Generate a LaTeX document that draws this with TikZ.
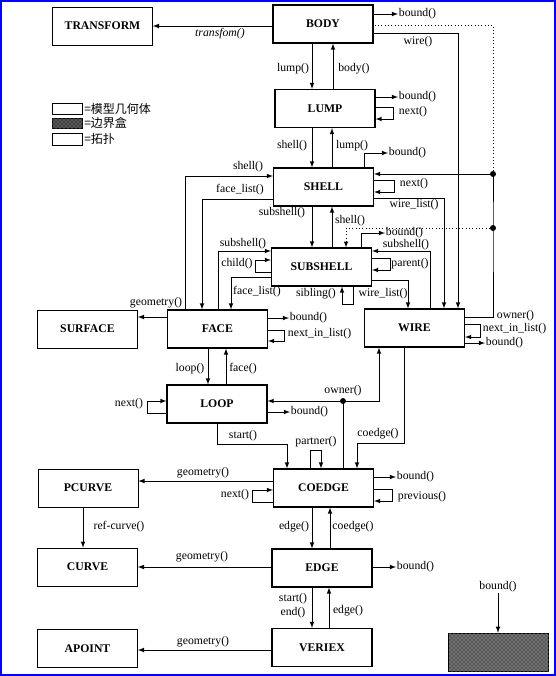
\documentclass[tikz,border=0pt]{standalone}
\usepackage{fontspec}
\setmainfont{Liberation Serif}
\newfontfamily\cjkfont{Noto Sans CJK SC}
\usetikzlibrary{patterns}
\tikzset{
  topo/.style={draw=black, line width=0.9pt, minimum width=75pt, minimum height=28.5pt,
    inner sep=0pt, font=\fontsize{8.8}{10}\selectfont\bfseries},
  geo/.style={topo, line width=0.55pt},
  lbl/.style={inner sep=0.5pt, font=\fontsize{8.8}{10.5}\selectfont},
  junction/.style={circle, fill=black, inner sep=0pt, minimum size=4.5pt}
}
\begin{document}
\begin{tikzpicture}[x=0.75pt, y=-0.75pt]
  \useasboundingbox (0,0) rectangle (556,676);
  \draw[blue, line width=1.4pt] (1,1) rectangle (555,675);

  % topology boxes
  \begin{scope}[every node/.style={topo}]
    \node (body) at (323,24) {BODY};
    \node (lump) at (325,108.5) {LUMP};
    \node (shell) at (323.5,187) {SHELL};
    \node (subshell) at (321.5,267) {SUBSHELL};
    \node (face) at (217.5,329) {FACE};
    \node (wire) at (414.5,328) {WIRE};
    \node (loop) at (217,404) {LOOP};
    \node (coedge) at (323.5,488) {COEDGE};
    \node (edge) at (322,568) {EDGE};
    \node (vertex) at (322,647.5) {VERIEX};
  \end{scope}
  % geometry boxes
  \begin{scope}[every node/.style={geo}]
    \node (transform) at (102.5,26) {TRANSFORM};
    \node (surface) at (87.5,329) {SURFACE};
    \node (pcurve) at (88,488) {PCURVE};
    \node (curve) at (87.5,567) {CURVE};
    \node (apoint) at (87.5,648.5) {APOINT};
  \end{scope}
  \node[draw, line width=0.6pt, fill=black!65, postaction={pattern=crosshatch dots, pattern color=black!25},
    minimum width=75pt, minimum height=29pt] (sample) at (498.5,652.5) {};

  % legend
  \node[geo, minimum width=22.5pt, minimum height=8.3pt] (leggeo) at (67,108.5) {};
  \node[draw, fill=black!75, postaction={pattern=crosshatch dots, pattern color=black!35},
    minimum width=22.5pt, minimum height=7.5pt, inner sep=0pt] (legbox) at (67,123) {};
  \node[topo, line width=0.75pt, minimum width=22.5pt, minimum height=9pt] (legtopo) at (67,139) {};
  \begin{scope}[every node/.style={anchor=west, inner sep=0pt, font=\cjkfont\fontsize{9}{10}\selectfont}]
    \node (tgeo) at (84,108.5) {=模型几何体};
    \node (tbox) at (84,123) {=边界盒};
    \node (ttopo) at (84,139) {=拓扑};
  \end{scope}

  % junctions
  \node[junction] (own1) at (493,174) {};
  \node[junction] (own2) at (493,228) {};
  \node[junction] (own3) at (343,401) {};

  % labels
  \begin{scope}[every node/.style={lbl}]
    \node (ltransform) at (220,34) {\textit{transfom()}};
    \node[anchor=west] (bbody) at (398,14) {bound()};
    \node (lwire) at (418,42) {wire()};
    \node (llump) at (293,69) {lump()};
    \node (lbody) at (354,69) {body()};
    \node[anchor=west] (blump) at (398,97) {bound()};
    \node (lnextlump) at (413,112) {next()};
    \node (lshell1) at (292,146) {shell()};
    \node (llump2) at (352,146) {lump()};
    \node[anchor=west] (bshell) at (388,153) {bound()};
    \node (lnextshell) at (414,184) {next()};
    \node (lwirelist1) at (414,205) {wire\_list()};
    \node (lshell2) at (248,167) {shell()};
    \node (lfacelist1) at (240,190) {face\_list()};
    \node (lsubshell1) at (282,213) {subshell()};
    \node (lshell3) at (350,221) {shell()};
    \node[anchor=west] (bsubshell) at (385,233) {bound()};
    \node (lsubshell2) at (406,245) {subshell()};
    \node (lparent) at (410,264) {parent()};
    \node (lwirelist2) at (383,294) {wire\_list()};
    \node (lsibling) at (316,294) {sibling()};
    \node (lsubshell3) at (243,244) {subshell()};
    \node (lchild) at (237,264) {child()};
    \node (lfacelist2) at (257,292) {face\_list()};
    \node (lgeoface) at (156,303) {geometry()};
    \node[anchor=west] (bface) at (289,318) {bound()};
    \node[anchor=west] (lnextface) at (287,334) {next\_in\_list()};
    \node[anchor=west] (lowner1) at (496,316) {owner()};
    \node[anchor=west] (lnextwire) at (482,329) {next\_in\_list()};
    \node[anchor=west] (bwire) at (485,343) {bound()};
    \node (lloop) at (190,369) {loop()};
    \node (lface) at (243,369) {face()};
    \node (lnextloop) at (129,404) {next()};
    \node[anchor=west] (bloop) at (290,412) {bound()};
    \node (lowner2) at (343,391) {owner()};
    \node (lcoedge1) at (378,434) {coedge()};
    \node (lstart) at (243,436) {start()};
    \node (lpartner) at (316,442) {partner()};
    \node[anchor=west] (bcoedge) at (396,477) {bound()};
    \node (lprevious) at (422,497) {previous()};
    \node (lgeocoedge) at (203,473) {geometry()};
    \node (lnextcoedge) at (235,495) {next()};
    \node (lrefcurve) at (119,527) {ref-curve()};
    \node (ledge1) at (294,527) {edge()};
    \node (lcoedge2) at (353,527) {coedge()};
    \node (lgeoedge) at (202,557) {geometry()};
    \node[anchor=west] (bedge) at (396,567) {bound()};
    \node[align=center] (lstartend) at (293,606) {start()\\end()};
    \node (ledge2) at (348,611) {edge()};
    \node (lgeovertex) at (203,642) {geometry()};
    \node (bsample) at (498,587) {bound()};
  \end{scope}

  % connectors
  \begin{scope}[->, >=latex, line width=0.6pt, every edge/.style={draw=black, ->, >=latex, line width=0.6pt}]
    \path (body.west |- transform.east) edge (transform.east);
    \path (body.east |- bbody) edge (bbody.west);
    \draw (body.east |- 0,33) -| (wire.north -| 458,0);
    \path (body.south -| 312,0) edge (lump.north -| 312,0);
    \path (lump.north -| 333,0) edge (body.south -| 333,0);
    \path (lump.east |- blump) edge (blump.west);
    \draw (lump.east |- 0,107) -- (393,107) |- (lump.east |- 0,119);
    \path (lump.south -| 312,0) edge (shell.north -| 312,0);
    \path (shell.north -| 332,0) edge (lump.south -| 332,0);
    \draw (shell.north -| 364,0) |- (bshell.west);
    \draw (shell.east |- 0,180) -- (394,180) |- (shell.east |- 0,192);
    \draw (shell.east |- 0,198) -| (wire.north -| 444,0);
    \draw (face.north -| 185,0) |- (shell.west |- 0,176);
    \draw (shell.west |- 0,199) -| (face.north -| 202,0);
    \path (shell.south -| 312,0) edge (subshell.north -| 312,0);
    \path (subshell.north -| 332,0) edge (shell.south -| 332,0);
    % owner of a wire
    \draw (wire.east |- 0,317) -| (own2.center) -- (own1.center) -- (shell.east |- own1);
    \draw[-, dotted, line width=0.5pt] (own1.center) |- (body.east |- 0,25);
    \draw[dotted, line width=0.5pt] (own2.center) -| (subshell.north -| 346,0);
    \draw (subshell.north -| 361,0) |- (bsubshell.west);
    \draw (wire.north -| 430,0) |- (subshell.east |- 0,251);
    \draw (subshell.east |- 0,258) -- (390,258) |- (subshell.east |- 0,270);
    \draw (subshell.east |- 0,280) -| (wire.north -| 408,0);
    \draw (subshell.south -| 353,0) |- (342,304) -- (subshell.south -| 342,0);
    \draw (face.north -| 218,0) |- (subshell.west |- 0,251);
    \draw (subshell.west |- 0,272) -- (255,272) |- (subshell.west |- 0,260);
    \draw (subshell.west |- 0,277) -| (face.north -| 231,0);
    \path (face.west |- 0,317) edge (surface.east |- 0,317);
    \path (face.east |- bface) edge (bface.west);
    \draw (face.east |- 0,330) -- (284,330) |- (face.east |- 0,341);
    \draw (wire.east |- 0,324) -- (480,324) |- (wire.east |- 0,337);
    \path (wire.east |- bwire) edge (bwire.west);
    \path (face.south -| 208,0) edge (loop.north -| 208,0);
    \path (loop.north -| 226,0) edge (face.south -| 226,0);
    \draw (loop.west |- 0,413) -- (147,413) |- (loop.west |- 0,401);
    \path (loop.east |- bloop) edge (bloop.west);
    % owner of a coedge
    \draw[-] (coedge.north -| own3) -- (own3.center);
    \path (own3.center) edge (loop.east |- own3);
    \draw (own3.center) -| (wire.south -| 379,0);
    \draw (wire.south -| 404,0) |- (357,443) -- (coedge.north -| 357,0);
    \draw (loop.south -| 217,0) |- (287,444) -- (coedge.north -| 287,0);
    \draw (coedge.north -| 310,0) |- (321,450) -- (coedge.north -| 321,0);
    \path (coedge.east |- bcoedge) edge (bcoedge.west);
    \draw (coedge.east |- 0,489) -- (392,489) |- (coedge.east |- 0,501);
    \path (coedge.west |- 0,481) edge (pcurve.east |- 0,481);
    \draw (coedge.west |- 0,502) -- (252,502) |- (coedge.west |- 0,490);
    \path (pcurve.south -| 83,0) edge (curve.north -| 83,0);
    \path (coedge.south -| 312,0) edge (edge.north -| 312,0);
    \path (edge.north -| 330,0) edge (coedge.south -| 330,0);
    \path (edge.west |- 0,567) edge (curve.east |- 0,567);
    \path (edge.east |- bedge) edge (bedge.west);
    \path (edge.south -| 312,0) edge (vertex.north -| 312,0);
    \path (vertex.north -| 329,0) edge (edge.south -| 329,0);
    \path (vertex.west |- 0,650) edge (apoint.east |- 0,650);
    \path (bsample.south) edge (sample.north -| bsample.south);
  \end{scope}
\end{tikzpicture}
\end{document}
